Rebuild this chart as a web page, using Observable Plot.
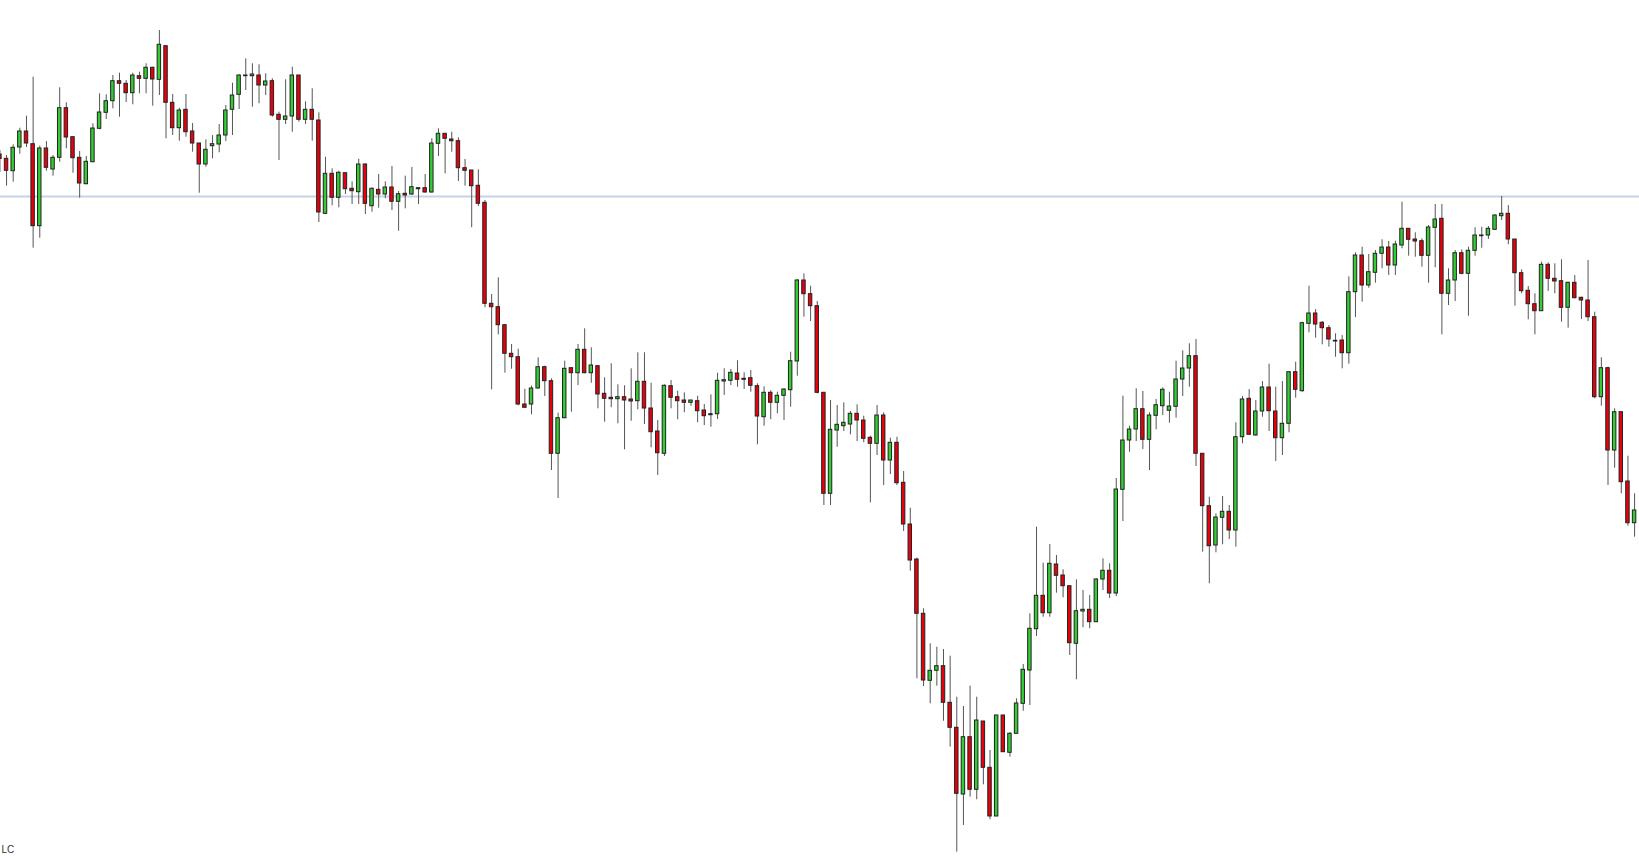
<!DOCTYPE html>
<html><head><meta charset="utf-8">
<script src="https://cdn.jsdelivr.net/npm/d3@7"></script>
<script src="https://cdn.jsdelivr.net/npm/@observablehq/plot@0.6"></script>
<style>html,body{margin:0;padding:0;background:#fff;} #chart svg{display:block}</style>
</head><body><div id="chart"></div>
<script>
const open = [
846,841.7,829.3,853,869,856.3,774.3,852,831,842.7,
892.3,863.3,842.7,816.3,838.3,871.7,887.7,899.3,919.3,916.7,
907.3,924.3,921.7,932.7,920.7,954.3,897.7,872.3,890.7,869,
857,836,854.3,856,865,890.7,905.7,924.3,924.3,925,
915,919.3,885.7,880.7,884,925,880.7,890.7,880,786.7,
826.7,802.7,827.3,811.7,808.3,836,794.3,810.7,806,813,
798.7,806.7,806,811.3,812.3,808,856.7,866.7,861,859.3,
832.3,830,814.7,797.7,696.7,693.3,675.3,646.7,643.3,596,
596,612,633.3,619.3,546.7,582.3,632.3,627.3,650.7,627.3,
634.3,606.7,602.7,601.3,603.3,601,599.3,618.7,592,569,
546.7,614.3,603.3,600,597.7,599.3,590,586.3,586.3,619,
619.7,627,621.7,622.3,614.3,583.3,607.7,597.7,604.7,610.3,
639,720,706.3,694.3,607.7,506.7,570,574.3,576,586.7,
580,562.7,556.7,585,540,557.7,517.7,476,441,386.7,
319.7,329.7,334.3,297.7,272.7,206,263.3,210.7,279,232.7,
184,285,247.7,266.7,296.7,330,371.3,404.7,387.3,436,
425,414.3,356.7,389,390.7,378.3,421,429.7,407,510.7,
560,571,591.3,560.7,584.7,594.3,589.7,593.7,621,632,
644.3,546.7,494.3,455,482.7,488.7,470,563.3,601.7,565,
589,613,589,562.3,576.7,628.3,609.3,676.7,687,677.7,
672.3,659,660,647.3,708.3,745,715,727.7,746.7,753,
735,755,771.7,761,759.3,744.7,772.7,781.7,706.7,720,
747.3,726.7,749.7,764.3,765,770.7,784.3,786.7,761,727.3,
709.7,696.3,689.3,735.7,721.7,719.3,692.7,717.7,702.7,700,
683.3,603.3,632.3,550,588.3,519,477.3];
const close = [
841.5,829.7,852.7,869,857,774.3,852,832.7,842.7,892.3,
863,842.3,817,838.7,872,888,899.3,919.3,916.7,907.3,
925,921.7,932.7,921,955.7,897.7,872.3,890,868.3,857,
836,850.7,856.3,865,890,905,925,925,926,915,
919,885,880.7,884,925,880.7,890.7,880.7,788,826.7,
802.7,827.7,811.3,809.3,836,796.7,811.7,806,813,798.7,
806.3,805,813.3,812.3,808,857,866.7,861.7,859.3,832.3,
829.7,814.3,796.7,696.7,693.3,675.3,646.7,643.3,596,592.7,
612,633.3,619.3,546.7,582.3,631.7,627.3,650.7,627.3,635,
606,601.7,601.3,603.3,600,599,618.7,592,568.3,547.3,
614.7,602.7,599.3,597.7,600,589.3,584.3,585.3,619.7,620.3,
627.7,620.7,620.7,614.7,584,607.7,597.7,604.7,611,639.3,
720,706.3,694.3,607.7,506.7,570.7,575.7,577.7,586.7,580,
561.7,556.7,585,540,557.7,517.3,476,440,386.7,320,
329.7,334.3,297.7,272.7,206.7,263.3,210.7,280,232.7,184,
285,248.3,266.7,297,330.7,371.7,404.7,387.3,436.7,424.7,
414.3,357.3,389.3,390.7,378.3,421,429.7,407,511,560,
571,591.3,560.7,585,595.3,610.7,594,621,632,644.3,
546.7,494.3,454.3,483,488.7,470,563.3,601,565.7,589,
613,589.3,562.3,576.7,628.3,610.7,677.3,687,676,672.3,
661,659.7,647.3,708.3,745,715,728.3,746.7,753,735,
756,771.7,760.7,759,744.7,773,781,706.7,720,747.3,
726.7,749.7,765,765,771.7,785,786.7,761,727.3,709.3,
696.3,689.3,735.7,721.7,719,692.7,717.7,702.3,700,683.3,
603.3,632.3,550,588.3,518.3,477.3,490];
const high = [
850,845,855.7,872.3,884.3,923.3,854.3,859,845,912.7,
897.7,863.3,849,844,876.7,906.7,905.7,925,927.3,920,
927.3,928.3,936.7,933.3,970,955,906,892.3,906,877,
857,860.7,865,876,895,917.3,925.7,941.7,936.7,935.7,
926.7,921.7,888.3,920.7,933.3,925,898.7,911.7,887.7,843.3,
831.7,829.3,827.3,818.7,841.3,836.7,812.7,826,818.7,834,
809,824.3,833,812.3,826,861.7,871.7,866.7,868.3,862.7,
841,830,830.7,800,706,722.7,676,656,651.3,611.3,
614.3,642.7,634.3,621.7,587.3,639.3,632.3,656,671.7,652.7,
635,622.7,636.7,615.7,614.7,631.7,647.7,647.7,617.3,580,
615.7,620,609.3,607.7,600,604.3,596,605.7,627.3,631.7,
631,639.7,627.7,630,616.7,613.7,609.7,608.3,611.7,648.3,
721,726.7,714.3,699,608,600,595,597.7,589,595.7,
584.3,564.3,595,587.7,562.3,563.3,529,492.3,442.3,391.7,
356.7,353.3,351,344.3,303.3,294,314.3,303.3,279,250,
285,285,268,301.7,336,386.7,473.3,437.3,456,445,
430.7,414.3,420.7,410,405,421.7,441.7,436.7,522,604.3,
574.3,611.7,609,587.7,601,612.7,608.3,639.3,649.7,656.7,
661,546.7,503.3,486.7,504,495,577.7,604,611,600,
619,636.3,613.3,619,628.3,638.3,678.3,714.3,691,679,
675,666.7,665,723.7,747.7,753.3,746,750,760.7,759,
759.3,798.3,771.7,767.7,761.7,775,796,796,731.7,750,
750.7,753.3,772.7,773.3,774,785.7,804,795,761,730.7,
714,706.7,738.3,737.7,736.7,740.7,718.3,725,703.3,740,
688.3,642.7,633.3,591.7,588.3,544.3,506.7];
const low = [
828,814.3,818.3,846.3,853,752.3,762.3,829.3,824.3,838.3,
851.7,827.3,802.3,815.7,837.7,870.7,881,891.7,883.3,898,
895.7,906.7,906.7,894.3,905,861.7,865,859.3,863.3,848.3,
807.3,833.3,841.7,847.7,859,865,891,910,893.3,896.7,
905,883.3,840,876,868.3,878.3,876,859.3,778,786,
794.7,792.7,806,796,796,786,788.3,792.3,801.7,790,
769.3,791.7,805,796,807.3,807.3,844,826.7,848.3,819,
814.3,772.7,794,692.7,610.7,665.7,627.3,631.3,594.7,592.7,
585.7,611.3,604,530,502,581.7,588.3,615,626.7,617.3,
591.7,578.3,592.7,576.7,550.7,579.3,590.7,576,552.7,525,
544,591.7,580.7,587.7,594.3,577.7,575,573.3,581,605,
615,613.3,611,608.3,555.7,574.3,580.7,586.7,580,593.3,
624.3,683.3,679,606.7,495,495,553.3,569,565.7,559,
557.7,497.7,545,515,526,515,469,429.3,321.7,314,
296.7,314.3,279.3,253.3,148.3,175,203.3,200.7,215.7,180.7,
184,248,243.3,266.7,289.3,295,364,383.3,383.3,407.3,
402.7,345,320.7,372.7,371.7,378.3,410,402,404,479,
548.3,559,551,530,570.7,585,577.3,582.3,604,613.3,
534,448.3,416.7,447.7,455.7,461,453.3,556.7,565,564.3,
583.3,569,539,545,567.7,602.3,608.3,667.7,662.3,655.7,
653.3,643.3,631.7,636.3,683,698.3,712.3,717.3,731.7,725,
725,751.7,744.3,743.3,733.3,717.3,732.7,665.7,695,699,
725.7,684.3,744.3,752.3,761,770,780,755.7,694.3,706.7,
680.7,665.7,689.3,709,706.7,678.3,672.3,701.7,681,679,
601.7,594.3,515,532.3,506.7,474.3,463.3];
const level = [804];
const label = ["LC"];

const bars = open.map((o, i) => ({i, open: o, high: high[i], low: low[i], close: close[i]}));
const upColor = "#33cc33", downColor = "#e8000c";

const chart = Plot.plot({
  width: 1639, height: 856,
  marginTop: 0, marginBottom: 0, marginLeft: 0, marginRight: 0,
  x: {domain: [0.09, 246.74], axis: null},
  y: {domain: [144, 1000], axis: null},
  color: {type: "identity"},
  style: {background: "#fff", fontFamily: "'Liberation Sans', Arial, sans-serif"},
  marks: [
    Plot.ruleY(level, {stroke: "#c5d3e8", strokeWidth: 2}),
    Plot.ruleX(bars, {x: "i", y1: "low", y2: "high", stroke: "#555", strokeWidth: 1}),
    Plot.rect(bars, {x1: d => d.i - 0.26, x2: d => d.i + 0.26, y1: "open", y2: "close",
      fill: d => d.close >= d.open ? upColor : downColor, stroke: "#222", strokeWidth: 1}),
    Plot.text(label, {frameAnchor: "bottom-left", dx: 1, dy: -4, fontSize: 10, fill: "#333"})
  ]
});
document.getElementById("chart").append(chart);
</script>
</body></html>
